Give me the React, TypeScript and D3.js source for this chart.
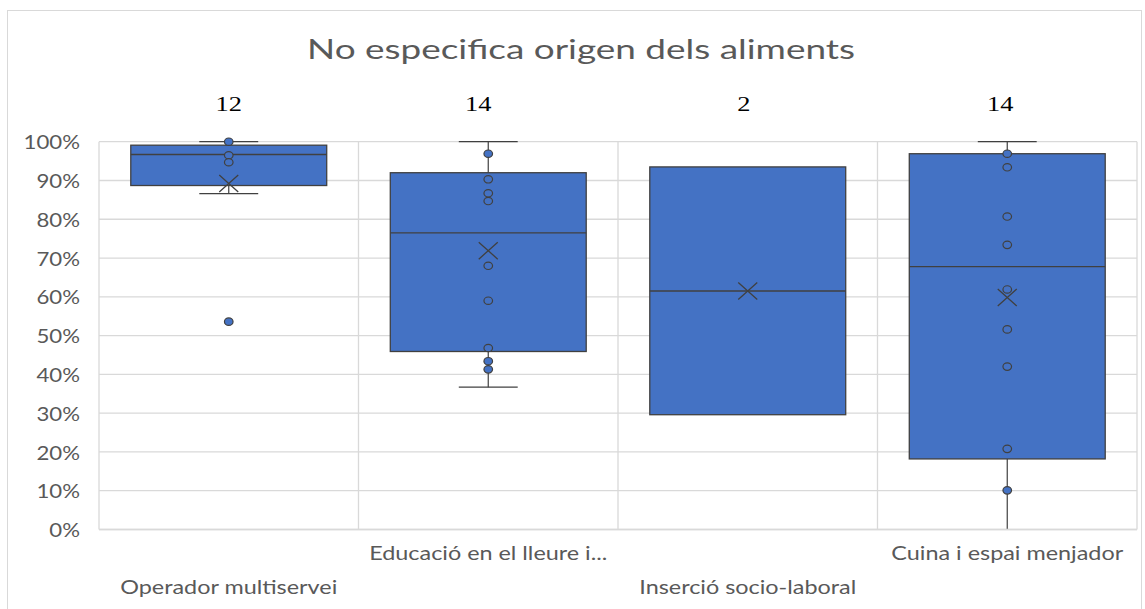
import React from "react";
import * as d3 from "d3";

// ---------- data ----------
const title = "No especifica origen dels aliments";
const categories = [
  "Operador multiservei",
  "Educació en el lleure i...",
  "Inserció socio-laboral",
  "Cuina i espai menjador",
];
const counts = [12, 14, 2, 14];
const whiskerLow = [0.866, 0.367, 0.296, 0.0];
const quartile1 = [0.887, 0.459, 0.296, 0.182];
const medians = [0.967, 0.765, 0.615, 0.678];
const quartile3 = [0.991, 0.92, 0.935, 0.969];
const whiskerHigh = [1.0, 1.0, 0.935, 1.0];
const means = [0.892, 0.719, 0.615, 0.598];
const points: number[][] = [
  [1.0, 0.965, 0.947, 0.536],
  [0.969, 0.903, 0.867, 0.847, 0.68, 0.59, 0.468, 0.434, 0.413],
  [],
  [0.969, 0.934, 0.807, 0.734, 0.619, 0.516, 0.42, 0.208, 0.101],
];
const countOffsets = [0, -10, -4, -7];

// ---------- style ----------
const W = 1145;
const H = 609;
const plot = { left: 99, right: 1137, top: 141.7, bottom: 529.5 };
const BLUE = "#4472C4";
const DARK = "#404040";
const GRID = "#d9d9d9";
const TEXT = "#595959";
const SANS = "Lato, 'Open Sans', sans-serif";
const SERIF = "'Liberation Serif', 'DejaVu Serif', serif";
const SX_TITLE = 1.42;
const SX_LABEL = 1.2;
const SX_NUM = 1.2;

export default function App() {
  const x = d3
    .scaleBand<string>()
    .domain(categories)
    .range([plot.left, plot.right])
    .padding(0);
  const y = d3.scaleLinear().domain([0, 1]).range([plot.bottom, plot.top]);
  const bw = x.bandwidth();
  const boxW = bw * 0.755;
  const capW = bw * 0.227;
  const ticks = y.ticks(10);
  const fmt = d3.format(".0%");
  const xEdges = [...categories.map((c) => x(c)!), plot.right];

  return (
    <svg
      width={W}
      height={H}
      style={{ position: "absolute", left: 0, top: 0, background: "#fff" }}
    >
      <rect x={0} y={0} width={W} height={H} fill="#fff" />
      {/* chart frame */}
      <rect
        x={7.5}
        y={10.5}
        width={1134}
        height={640}
        fill="#fff"
        stroke={GRID}
        strokeWidth={1}
      />
      {/* title */}
      <text
        transform={`translate(581,59.3) scale(${SX_TITLE},1)`}
        textAnchor="middle"
        fontFamily={SANS}
        fontSize={26}
        fill={TEXT}
      >
        {title}
      </text>
      {/* horizontal gridlines */}
      {ticks.map((t) => (
        <line
          key={"h" + t}
          x1={plot.left}
          x2={plot.right}
          y1={y(t)}
          y2={y(t)}
          stroke={GRID}
          strokeWidth={1.3}
        />
      ))}
      {/* vertical gridlines */}
      {xEdges.map((e, i) => (
        <line
          key={"v" + i}
          x1={e}
          x2={e}
          y1={plot.top}
          y2={plot.bottom}
          stroke={GRID}
          strokeWidth={1.3}
        />
      ))}
      {/* y tick labels */}
      {ticks.map((t) => (
        <text
          key={"t" + t}
          transform={`translate(80,${y(t) + 7.6}) scale(${SX_LABEL},1)`}
          textAnchor="end"
          fontFamily={SANS}
          fontSize={18.5}
          fill={TEXT}
        >
          {fmt(t)}
        </text>
      ))}
      {/* boxes */}
      {categories.map((c, i) => {
        const cx = x(c)! + bw / 2;
        const hasLow = whiskerLow[i] < quartile1[i];
        const hasHigh = whiskerHigh[i] > quartile3[i];
        const mx = y(means[i]);
        return (
          <g key={"b" + i}>
            {hasHigh && (
              <>
                <line x1={cx} x2={cx} y1={y(whiskerHigh[i])} y2={y(quartile3[i])} stroke={DARK} strokeWidth={1.2} />
                <line x1={cx - capW / 2} x2={cx + capW / 2} y1={y(whiskerHigh[i])} y2={y(whiskerHigh[i])} stroke={DARK} strokeWidth={1.2} />
              </>
            )}
            {hasLow && (
              <>
                <line x1={cx} x2={cx} y1={y(quartile1[i])} y2={y(whiskerLow[i])} stroke={DARK} strokeWidth={1.2} />
                <line x1={cx - capW / 2} x2={cx + capW / 2} y1={y(whiskerLow[i])} y2={y(whiskerLow[i])} stroke={DARK} strokeWidth={1.2} />
              </>
            )}
            <rect
              x={cx - boxW / 2}
              y={y(quartile3[i])}
              width={boxW}
              height={y(quartile1[i]) - y(quartile3[i])}
              fill={BLUE}
              stroke={DARK}
              strokeWidth={1.3}
            />
            <line x1={cx - boxW / 2} x2={cx + boxW / 2} y1={y(medians[i])} y2={y(medians[i])} stroke={DARK} strokeWidth={1.3} />
            {points[i].map((p, k) => (
              <ellipse
                key={k}
                cx={cx}
                cy={y(p)}
                rx={4.3}
                ry={3.7}
                fill={BLUE}
                stroke={DARK}
                strokeWidth={1.2}
              />
            ))}
            <path
              d={`M${cx - 9.5},${mx - 8.5}L${cx + 9.5},${mx + 8.5}M${cx - 9.5},${mx + 8.5}L${cx + 9.5},${mx - 8.5}`}
              stroke={DARK}
              strokeWidth={1.3}
              fill="none"
            />
            <text
              transform={`translate(${cx + countOffsets[i]},110.7) scale(${SX_NUM},1)`}
              textAnchor="middle"
              fontFamily={SERIF}
              fontSize={22}
              fill="#000"
            >
              {counts[i]}
            </text>
            <text
              transform={`translate(${cx},${i % 2 === 0 ? 594 : 560}) scale(${SX_LABEL},1)`}
              textAnchor="middle"
              fontFamily={SANS}
              fontSize={19.5}
              fill={TEXT}
            >
              {c}
            </text>
          </g>
        );
      })}
      {/* baseline drawn over whisker ends */}
      <line x1={plot.left} x2={plot.right} y1={plot.bottom} y2={plot.bottom} stroke={GRID} strokeWidth={1.6} />
    </svg>
  );
}
